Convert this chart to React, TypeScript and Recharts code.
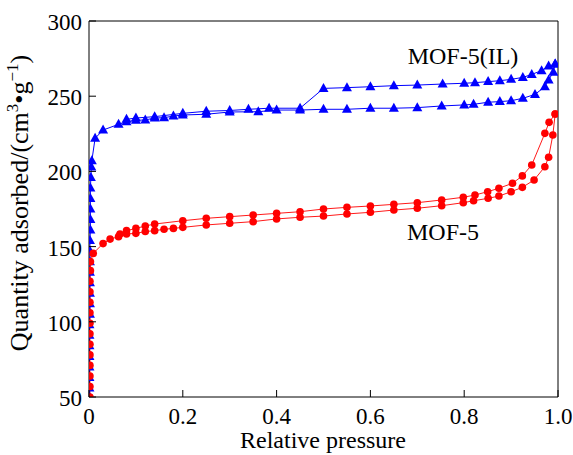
import { LineChart, Line, XAxis, YAxis, ReferenceLine } from 'recharts';

// MOF-5(IL) adsorption branch (lower)
const ilAdsP = [
  0.001, 0.001, 0.001, 0.001, 0.001, 0.001, 0.001, 0.001, 0.002, 0.002, 0.002, 0.002, 0.002,
  0.002, 0.002, 0.002, 0.003, 0.003, 0.003, 0.003, 0.003, 0.004, 0.005, 0.006, 0.013, 0.03,
  0.063, 0.08, 0.1, 0.12, 0.14, 0.16, 0.18, 0.2, 0.25, 0.3, 0.361, 0.4, 0.45, 0.5, 0.55, 0.6,
  0.65, 0.7, 0.752, 0.8, 0.82, 0.851, 0.876, 0.9, 0.925, 0.951, 0.972, 0.98, 0.99, 0.994,
];
const ilAdsQ = [
  50, 56, 63, 70, 77, 84, 91, 98, 105, 112, 119, 126, 133, 140, 147, 154, 161, 168, 175, 182,
  189, 196, 203, 207, 222, 227.5, 231.3, 233, 234, 234.2, 235.5, 235.7, 236.8, 237.5, 238,
  239.5, 239.7, 240.8, 240.8, 241.3, 241.3, 242, 242, 242.4, 243.5, 244.2, 244.6, 246, 246.4,
  247, 248.6, 251.2, 256.3, 260.8, 266, 271.4,
];

// MOF-5(IL) desorption branch (upper)
const ilDesP = [
  0.994, 0.98, 0.965, 0.944, 0.925, 0.9, 0.876, 0.851, 0.823, 0.8, 0.754, 0.7, 0.65, 0.6, 0.55,
  0.5, 0.45, 0.384, 0.34, 0.3, 0.25, 0.2, 0.14, 0.1, 0.08,
];
const ilDesQ = [
  271.4, 270, 267, 264.5, 262.5, 261.2, 260.3, 259.7, 259, 258.6, 258.1, 257.4, 257, 256.3,
  255.7, 255.2, 242, 242, 241.3, 240.5, 240, 238.6, 236.4, 235.5, 234.6,
];

// MOF-5 adsorption branch (lower)
const mofAdsP = [
  0.002, 0.002, 0.002, 0.002, 0.002, 0.002, 0.002, 0.002, 0.002, 0.002, 0.002, 0.002, 0.003,
  0.003, 0.009, 0.03, 0.045, 0.063, 0.08, 0.1, 0.12, 0.14, 0.16, 0.18, 0.2, 0.25, 0.3, 0.35,
  0.4, 0.45, 0.5, 0.55, 0.6, 0.65, 0.7, 0.752, 0.798, 0.82, 0.851, 0.874, 0.9, 0.924, 0.949,
  0.972, 0.98, 0.989, 0.994,
];
const mofAdsQ = [
  50, 57, 64, 71, 78, 85, 92, 99, 106, 113, 120, 127, 134, 140, 145.5, 152, 155, 156.6, 158.4,
  158.8, 160, 160.6, 161.5, 162.1, 162.8, 164.4, 165.5, 166.6, 168.4, 169.5, 170.3, 171.7,
  172.8, 174.3, 175.5, 177.2, 179.2, 180.5, 182.1, 183.6, 186.5, 189.4, 194.3, 203.1, 209.4,
  224.2, 238.2,
];

// MOF-5 desorption branch (upper)
const mofDesP = [
  0.994, 0.981, 0.972, 0.944, 0.924, 0.903, 0.874, 0.85, 0.823, 0.798, 0.752, 0.7, 0.65, 0.6,
  0.55, 0.5, 0.45, 0.4, 0.35, 0.3, 0.25, 0.2, 0.14, 0.12, 0.1, 0.08, 0.066,
];
const mofDesQ = [
  238.2, 232.6, 225.3, 204.3, 197, 192.1, 188.8, 186.5, 184.3, 182.8, 181, 179.2, 178.1, 177,
  176.1, 175, 173.2, 172.1, 171, 169.9, 168.8, 167.2, 165, 163.7, 162.1, 160.6, 158.4,
];

const xTicks = [0, 0.2, 0.4, 0.6, 0.8, 1.0];
const xTickLabels = ['0', '0.2', '0.4', '0.6', '0.8', '1.0'];
const yTicks = [50, 100, 150, 200, 250, 300];

const toSeries = (p: number[], q: number[]) => p.map((x, i) => ({ p: x, q: q[i] }));

const serif = { fontFamily: '"Liberation Serif", "Times New Roman", "DejaVu Serif", serif' };
const BLUE = '#0000ff';
const RED = '#ff0000';
const TICK_GAP = 7;

const Triangle = (props: any) => {
  const { cx, cy } = props;
  if (cx == null || cy == null) return null;
  return (
    <polygon
      points={`${cx},${cy - 5.5} ${cx - 5},${cy + 3.5} ${cx + 5},${cy + 3.5}`}
      fill={BLUE}
    />
  );
};

const Circle = (props: any) => {
  const { cx, cy } = props;
  if (cx == null || cy == null) return null;
  return <circle cx={cx} cy={cy} r={3.8} fill={RED} />;
};

const XTick = (props: any) => {
  const { x, y, payload } = props;
  const axisY = y - TICK_GAP;
  const idx = xTicks.indexOf(payload.value);
  return (
    <g>
      <line x1={x} x2={x} y1={axisY} y2={axisY - 7} stroke="#000" strokeWidth={1} />
      <text x={x} y={axisY + 27} textAnchor="middle" style={serif} fontSize={23} fill="#000">
        {idx >= 0 ? xTickLabels[idx] : payload.value}
      </text>
    </g>
  );
};

const YTick = (props: any) => {
  const { x, y, payload } = props;
  const axisX = x + TICK_GAP;
  return (
    <g>
      <line x1={axisX} x2={axisX + 7} y1={y} y2={y} stroke="#000" strokeWidth={1} />
      <text x={x} y={y + 9} textAnchor="end" style={serif} fontSize={23} fill="#000">
        {payload.value}
      </text>
    </g>
  );
};

export default function App() {
  return (
    <div style={{ position: 'absolute', left: 0, top: 0, width: 573, height: 455, background: '#fff' }}>
      <LineChart width={573} height={455} margin={{ top: 21, right: 15, left: 0, bottom: 0 }}>
        <XAxis
          type="number"
          dataKey="p"
          domain={[0, 1]}
          ticks={xTicks}
          height={58}
          tickSize={0}
          tickMargin={TICK_GAP}
          tickLine={false}
          axisLine={{ stroke: '#000' }}
          tick={<XTick />}
          interval={0}
          allowDataOverflow
          label={{
            content: () => (
              <text x={323} y={448} textAnchor="middle" style={serif} fontSize={24} fill="#000">
                Relative pressure
              </text>
            ),
          }}
        />
        <YAxis
          type="number"
          dataKey="q"
          domain={[50, 300]}
          ticks={yTicks}
          width={89}
          tickSize={0}
          tickMargin={TICK_GAP}
          tickLine={false}
          axisLine={{ stroke: '#000' }}
          tick={<YTick />}
          interval={0}
          allowDataOverflow
          label={{
            content: () => (
              <text
                x={28}
                y={203}
                transform="rotate(-90 28 203)"
                textAnchor="middle"
                style={serif}
                fontSize={26}
                fill="#000"
              >
                Quantity adsorbed/(cm
                <tspan fontSize={17} dy={-10}>3</tspan>
                <tspan dy={10}>•g</tspan>
                <tspan fontSize={17} dy={-10}>−1</tspan>
                <tspan dy={10}>)</tspan>
              </text>
            ),
          }}
        />
        <ReferenceLine y={300} stroke="#000" strokeWidth={1} />
        <ReferenceLine x={1} stroke="#000" strokeWidth={1} />
        <Line
          data={toSeries(ilAdsP, ilAdsQ)}
          dataKey="q"
          stroke={BLUE}
          strokeWidth={1}
          dot={<Triangle />}
          isAnimationActive={false}
        />
        <Line
          data={toSeries(ilDesP, ilDesQ)}
          dataKey="q"
          stroke={BLUE}
          strokeWidth={1}
          dot={<Triangle />}
          isAnimationActive={false}
        />
        <Line
          data={toSeries(mofAdsP, mofAdsQ)}
          dataKey="q"
          stroke={RED}
          strokeWidth={0.9}
          dot={<Circle />}
          isAnimationActive={false}
        />
        <Line
          data={toSeries(mofDesP, mofDesQ)}
          dataKey="q"
          stroke={RED}
          strokeWidth={0.9}
          dot={<Circle />}
          isAnimationActive={false}
        />
        <text x={463} y={64} textAnchor="middle" style={serif} fontSize={24} fill="#000">
          MOF-5(IL)
        </text>
        <text x={443} y={240} textAnchor="middle" style={serif} fontSize={24} fill="#000">
          MOF-5
        </text>
      </LineChart>
    </div>
  );
}
